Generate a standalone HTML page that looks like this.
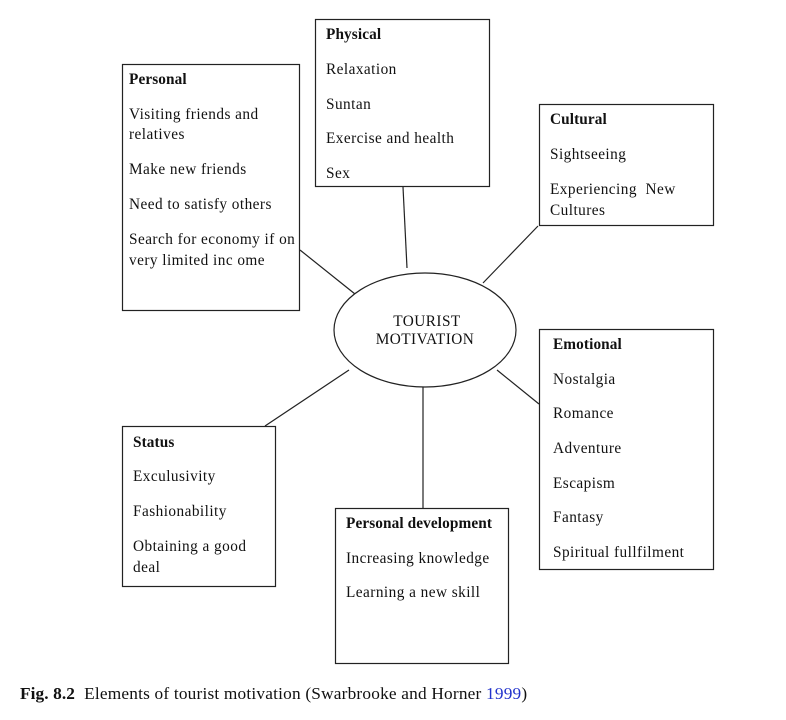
<!DOCTYPE html>
<html><head><meta charset="utf-8"><style>
html,body{margin:0;padding:0;background:#fff;}
svg{display:block;}
text{font-family:"Liberation Serif",serif;font-size:15.3px;letter-spacing:0.45px;fill:#111;}
.b{font-weight:bold;letter-spacing:0.1px;}
</style></head><body>
<svg width="786" height="720" viewBox="0 0 786 720">
<g fill="none" stroke="#222" stroke-width="1.2">
<rect x="122.5" y="64.5" width="177" height="246"/>
<rect x="315.5" y="19.5" width="174" height="167"/>
<rect x="539.5" y="104.5" width="174" height="121"/>
<rect x="539.5" y="329.5" width="174" height="240"/>
<rect x="122.5" y="426.5" width="153" height="160"/>
<rect x="335.5" y="508.5" width="173" height="155"/>
<ellipse cx="425" cy="330" rx="91" ry="57"/>
<line x1="300" y1="250" x2="355" y2="294"/>
<line x1="403" y1="187" x2="407" y2="268"/>
<line x1="538" y1="226" x2="483" y2="283"/>
<line x1="497" y1="370" x2="539" y2="404"/>
<line x1="265" y1="426" x2="349" y2="370"/>
<line x1="423" y1="387" x2="423" y2="508"/>
</g>
<text x="129" y="84" class="b">Personal</text>
<text x="129" y="119">Visiting friends and</text>
<text x="129" y="139">relatives</text>
<text x="129" y="174">Make new friends</text>
<text x="129" y="209">Need to satisfy others</text>
<text x="129" y="244">Search for economy if on</text>
<text x="129" y="265">very limited inc ome</text>

<text x="326" y="39" class="b">Physical</text>
<text x="326" y="74">Relaxation</text>
<text x="326" y="109">Suntan</text>
<text x="326" y="143">Exercise and health</text>
<text x="326" y="178">Sex</text>

<text x="550" y="124" class="b">Cultural</text>
<text x="550" y="159">Sightseeing</text>
<text x="550" y="194">Experiencing&#160; New</text>
<text x="550" y="215">Cultures</text>

<text x="553" y="349" class="b">Emotional</text>
<text x="553" y="384">Nostalgia</text>
<text x="553" y="418">Romance</text>
<text x="553" y="453">Adventure</text>
<text x="553" y="488">Escapism</text>
<text x="553" y="522">Fantasy</text>
<text x="553" y="557">Spiritual fullfilment</text>

<text x="133" y="447" class="b">Status</text>
<text x="133" y="481">Exculusivity</text>
<text x="133" y="516">Fashionability</text>
<text x="133" y="551">Obtaining a good</text>
<text x="133" y="572">deal</text>

<text x="346" y="528" class="b">Personal development</text>
<text x="346" y="563">Increasing knowledge</text>
<text x="346" y="597">Learning a new skill</text>

<text x="427" y="326" text-anchor="middle">TOURIST</text>
<text x="425" y="344" text-anchor="middle">MOTIVATION</text>

<text x="20" y="699" style="font-size:17.3px;letter-spacing:0.2px"><tspan class="b">Fig. 8.2</tspan>&#160;&#160;Elements of tourist motivation (Swarbrooke and Horner <tspan style="fill:#2233cc">1999</tspan>)</text>
</svg>
</body></html>
